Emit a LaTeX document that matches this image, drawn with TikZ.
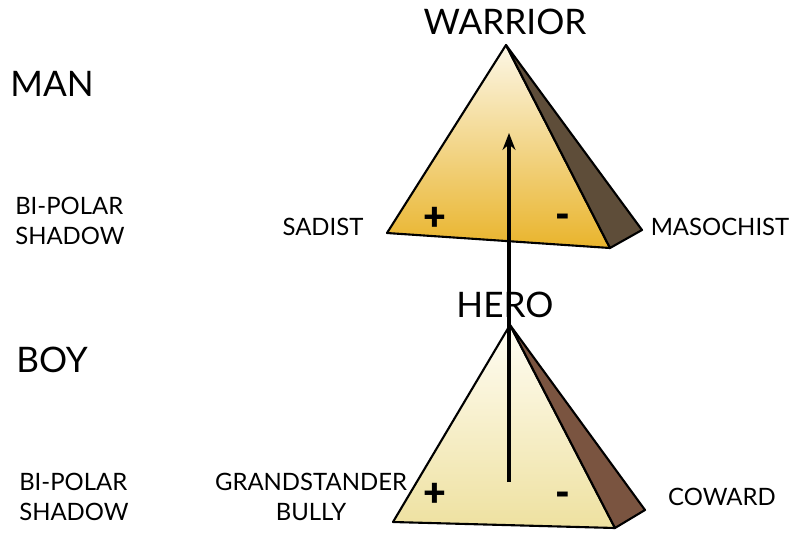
\documentclass[tikz,border=0pt]{standalone}
\usepackage{fontspec}
\setmainfont{Lato}
\newfontfamily\signfont{Lato Black}
\usetikzlibrary{arrows.meta,positioning}
\definecolor{ManGold}{HTML}{E9B42C}
\definecolor{ManCream}{HTML}{FCF7E6}
\definecolor{ManShade}{HTML}{5E4D39}
\definecolor{BoyCream}{HTML}{FFFDF4}
\definecolor{BoyStraw}{HTML}{EEE1A0}
\definecolor{BoyShade}{HTML}{7A5440}

\begin{document}
\begin{tikzpicture}[
    x=0.025cm,y=-0.025cm,
    bigtag/.style={
      font=\fontsize{25}{28}\selectfont,
      inner sep=0pt
    },
    smalltag/.style={
      font=\fontsize{17}{21}\selectfont,
      inner sep=0pt,
      align=center
    },
    sign/.style={
      font=\signfont\fontsize{28}{30}\selectfont,
      inner sep=0pt
    },
    face/.style={
      draw=black,
      line width=1.5pt,
      line join=round
    },
    arrow/.style={
      -{Stealth[length=4.2mm,width=3.2mm]},
      line width=2.7pt
    }]
    \useasboundingbox (0,0) rectangle (792,535);

    % Man pyramid
    \coordinate (mtop) at (506,45);
    \coordinate (mleft) at (387,233);
    \coordinate (mright) at (610,248);
    \coordinate (mback) at (642,230);
    \shadedraw[face,top color=ManCream,bottom color=ManGold] (mtop) -- (mleft) -- (mright) -- cycle;
    \filldraw[face,fill=ManShade] (mtop) -- (mright) -- (mback) -- cycle;
    \node[sign] (mplus) at (435,219) {+};
    \node[sign] (mminus) at (563,221) {-};

    % Boy pyramid
    \coordinate (btop) at (510,325);
    \coordinate (bleft) at (393,522);
    \coordinate (bright) at (615,528);
    \coordinate (bback) at (645,510);
    \shadedraw[face,top color=BoyCream,bottom color=BoyStraw] (btop) -- (bleft) -- (bright) -- cycle;
    \filldraw[face,fill=BoyShade] (btop) -- (bright) -- (bback) -- cycle;
    \node[sign] (bplus) at (435,495) {+};
    \node[sign] (bminus) at (563,499) {-};

    % Left column
    \node[bigtag] (man) at (52,84) {MAN};
    \node[smalltag,align=left,anchor=west] (mshadow) at (15,221) {BI-POLAR\\SHADOW};
    \node[bigtag] (boy) at (52,360) {BOY};
    \node[smalltag,align=left,anchor=west] (bshadow) at (19,497) {BI-POLAR\\SHADOW};

    % Pole labels
    \node[bigtag] (warrior) at (505,22) {WARRIOR};
    \node[smalltag] (sadist) at (323,227) {SADIST};
    \node[smalltag] (masochist) at (720,227) {MASOCHIST};
    \node[bigtag] (hero) at (505,305) {HERO};
    \node[smalltag] (bully) at (311,497) {GRANDSTANDER\\BULLY};
    \node[smalltag] (coward) at (722,497) {COWARD};

    % Growth arrow
    \coordinate (rise) at (509,482);
    \coordinate (peak) at (509,133);
    \draw[arrow] (rise) -- (peak);
  \end{tikzpicture}
\end{document}
